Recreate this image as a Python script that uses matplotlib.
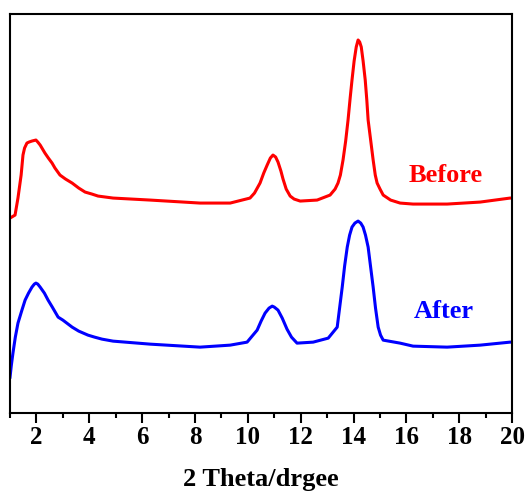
import matplotlib
matplotlib.use('Agg')
import matplotlib.pyplot as plt
from matplotlib.ticker import MultipleLocator

plt.rcParams['font.family'] = ['Liberation Serif', 'DejaVu Serif']
plt.rcParams['font.weight'] = 'bold'

# XRD 패턴 (그림에서 판독한 값, a.u.)
before_x = [1.00, 1.19, 1.30, 1.42, 1.49, 1.55, 1.64, 1.72, 1.83, 1.98, 2.05, 2.14,
            2.32, 2.45, 2.59, 2.70, 2.89, 3.10, 3.35, 3.60, 3.84, 4.10, 4.33, 4.90,
            6.30, 8.19, 9.33, 10.08, 10.25, 10.46, 10.60, 10.73, 10.85, 10.95, 11.05,
            11.14, 11.25, 11.33, 11.45, 11.60, 11.75, 11.98, 12.62, 13.11, 13.30,
            13.41, 13.50, 13.60, 13.70, 13.79, 13.87, 13.94, 14.02, 14.10, 14.17,
            14.23, 14.29, 14.36, 14.44, 14.50, 14.55, 14.65, 14.74, 14.82, 14.89,
            15.00, 15.12, 15.40, 15.76, 16.25, 17.54, 18.79, 19.92, 20.00]
before_y = [195, 198, 215, 238, 258, 265, 270, 271, 272, 273, 271, 268,
            260, 255, 250, 245, 238, 234, 230, 225, 221, 219, 217, 215,
            213, 210, 210, 215, 220, 230, 240, 248, 255, 258, 256,
            251, 242, 234, 224, 217, 214, 212, 213, 218, 224,
            230, 238, 253, 272, 293, 315, 333, 352, 366, 373,
            371, 366, 352, 333, 313, 293, 272, 253, 238, 230,
            224, 218, 213, 210, 209, 209, 211, 215, 215]

after_x = [1.00, 1.05, 1.11, 1.20, 1.30, 1.45, 1.57, 1.70, 1.83, 1.92, 1.98, 2.05,
           2.14, 2.30, 2.44, 2.60, 2.82, 3.00, 3.35, 3.60, 3.95, 4.20, 4.48, 4.90,
           6.30, 8.19, 9.33, 9.97, 10.35, 10.50, 10.65, 10.80, 10.92, 11.00, 11.14,
           11.30, 11.48, 11.65, 11.86, 12.47, 13.04, 13.38, 13.47, 13.57, 13.66,
           13.76, 13.85, 13.94, 14.05, 14.17, 14.27, 14.36, 14.45, 14.55, 14.64,
           14.74, 14.83, 14.93, 15.02, 15.12, 15.76, 16.25, 17.54, 18.79, 19.92,
           20.00]
after_y = [36, 48, 60, 76, 90, 103, 113, 120, 126, 129, 130, 129,
           126, 120, 113, 106, 96, 93, 86, 82, 78, 76, 74, 72,
           69, 66, 68, 71, 83, 92, 100, 105, 107, 106, 103,
           95, 84, 76, 70, 71, 75, 86, 105, 126, 147,
           166, 178, 186, 190, 192, 190, 186, 178, 166, 147,
           126, 105, 86, 78, 73, 70, 67, 66, 68, 71,
           71]

fig = plt.figure(figsize=(5.28, 4.99), dpi=100)
ax = fig.add_axes([0.019, 0.172, 0.951, 0.800])

ax.plot(before_x, before_y, color='#ff0000', lw=2.2)
ax.plot(after_x, after_y, color='#0000ff', lw=2.2)

ax.text(17.5, 238, 'Before', color='#ff0000', fontsize=19, fontweight='bold',
        ha='center', va='center')
ax.text(17.4, 102, 'After', color='#0000ff', fontsize=19, fontweight='bold',
        ha='center', va='center')

ax.set_xlim(1, 20)
ax.set_ylim(0, 399)
ax.xaxis.set_major_locator(MultipleLocator(2))
ax.xaxis.set_minor_locator(MultipleLocator(1))
ax.set_yticks([])
ax.tick_params(axis='x', which='major', direction='out', length=7, width=1.5,
               labelsize=18, pad=2)
ax.tick_params(axis='x', which='minor', direction='out', length=3.5, width=1.5)
for s in ax.spines.values():
    s.set_linewidth(1.5)

ax.set_xlabel('2 Theta/drgee', fontsize=19, fontweight='bold', labelpad=14)

fig.savefig('out.png', dpi=100)
